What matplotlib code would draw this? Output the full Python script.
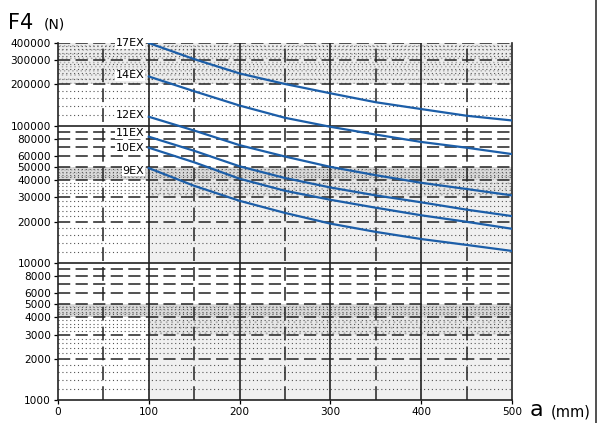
import matplotlib
matplotlib.use('Agg')
import matplotlib.pyplot as plt
from matplotlib.ticker import FixedLocator, NullLocator, FixedFormatter
from matplotlib.lines import Line2D

# stroke a (mm) where the curves are read
a_mm = [100, 150, 200, 250, 300, 350, 400, 450, 500]

# F4 (N) per model
f4_17ex = [400000, 305000, 240000, 201000, 172000, 148000, 132000, 118000, 109000]
f4_14ex = [228000, 178000, 140000, 114000, 98000, 86000, 76000, 69000, 62000]
f4_12ex = [116000, 92000, 72000, 59500, 50000, 43500, 38300, 34500, 31000]
f4_11ex = [83000, 65500, 50500, 41500, 35400, 31000, 27600, 24400, 21900]
f4_10ex = [69000, 54000, 41000, 33500, 28800, 25200, 22200, 19900, 17700]
f4_9ex = [49000, 36400, 28300, 23100, 19300, 16800, 14900, 13500, 12200]

models = ["17EX", "14EX", "12EX", "11EX", "10EX", "9EX"]
series = [f4_17ex, f4_14ex, f4_12ex, f4_11ex, f4_10ex, f4_9ex]
label_y = [400000, 232000, 120000, 88000, 69000, 47000]

y_ticks = [1000, 2000, 3000, 4000, 5000, 6000, 8000, 10000, 20000, 30000,
           40000, 50000, 60000, 80000, 100000, 200000, 300000, 400000]
x_ticks = [0, 100, 200, 300, 400, 500]

fig = plt.figure(figsize=(6, 4.23), dpi=100)
ax = fig.add_axes([58 / 600, 23 / 423, 454 / 600, 357 / 423])
ax.set_yscale('log')
ax.set_xlim(0, 500)
ax.set_ylim(1000, 400000)

plt.rcParams['hatch.linewidth'] = 0.6

# grey stippled bands
def band(lo, hi, x0=0, x1=500, fc='#eeeeee', hatch=None):
    ax.fill_between([x0, x1], lo, hi, facecolor=fc, edgecolor='#b0b0b0',
                    hatch=hatch, linewidth=0, zorder=0)

band(200000, 400000, fc='#ececec', hatch='....')
band(40000, 50000, fc='#dadada', hatch='.....')
band(30000, 40000, 100, 500, fc='#e6e6e6', hatch='...')
band(10000, 30000, 100, 500, fc='#f0f0f0')
band(4000, 5000, fc='#dadada', hatch='.....')
band(3000, 4000, 100, 500, fc='#e6e6e6', hatch='...')
band(1000, 3000, 100, 500, fc='#f0f0f0')

# dotted minor lines
dot_levels = []
for dec in [1000, 10000, 100000]:
    for base in [1, 2, 3, 4]:
        if dec == 100000 and base > 3:
            continue
        for k in [2, 4, 6, 8]:
            dot_levels.append(dec * (base + k / 10))
for v in dot_levels:
    ax.axhline(v, color='#555555', lw=0.8, ls=(0, (1, 2.5)), zorder=1)

# dashed and solid horizontal grid
for v in y_ticks + [7000, 9000, 70000, 90000]:
    if v in (1000, 10000, 100000):
        continue
    ax.axhline(v, color='#222222', lw=1.1, ls=(0, (8, 3.5)), zorder=2)
for v in [10000, 100000]:
    ax.axhline(v, color='#222222', lw=1.2, zorder=2)

# vertical grid
for x in [50, 150, 250, 350, 450]:
    ax.axvline(x, color='#222222', lw=1.1, ls=(0, (9, 4)), zorder=2)
for x in [100, 200, 300, 400]:
    ax.axvline(x, color='#222222', lw=1.2, zorder=2)

for name, vals, ly in zip(models, series, label_y):
    ax.plot(a_mm, vals, color='#1c5ea8', lw=1.6, zorder=4)
    ax.text(95, ly, name, ha='right', va='center', fontsize=8, zorder=5,
            bbox=dict(facecolor='white', edgecolor='none', pad=0.6))

ax.yaxis.set_major_locator(FixedLocator(y_ticks))
ax.yaxis.set_major_formatter(FixedFormatter([str(v) for v in y_ticks]))
ax.yaxis.set_minor_locator(NullLocator())
ax.xaxis.set_major_locator(FixedLocator(x_ticks))
ax.tick_params(axis='both', direction='out', length=3, width=0.9, labelsize=7.6, pad=2)

for s in ['left', 'bottom', 'right']:
    ax.spines[s].set_linewidth(1.2)
    ax.spines[s].set_color('#222222')
ax.spines['top'].set_visible(False)

fig.text(0.013, 0.945, "F4", fontsize=15, va='center', ha='left')
fig.text(0.073, 0.943, "(N)", fontsize=10, va='center', ha='left')
fig.text(0.882, 0.03, "a", fontsize=16, va='center', ha='left')
fig.text(0.918, 0.027, "(mm)", fontsize=10.5, va='center', ha='left')

fig.add_artist(Line2D([0.994, 0.994], [0, 1], color='#333333', lw=1.2))

fig.savefig("out.png", dpi=100)
